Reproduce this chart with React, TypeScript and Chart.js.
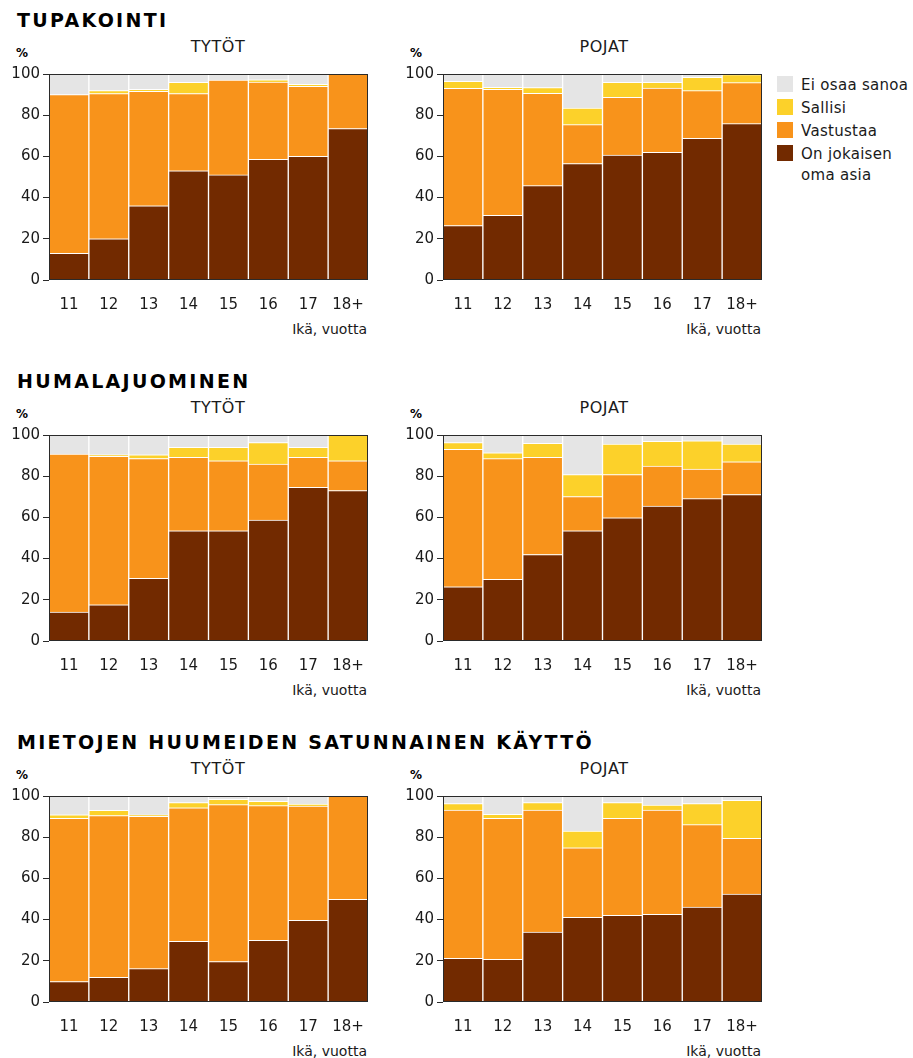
import React, { useEffect, useRef } from "react";
import { Chart, registerables } from "chart.js";

Chart.register(...registerables);

const AGES = ["11", "12", "13", "14", "15", "16", "17", "18+"];
const Y_TICKS = [0, 20, 40, 60, 80, 100];
const SERIES_NAMES = ["On jokaisen oma asia", "Vastustaa", "Sallisi", "Ei osaa sanoa"];
const SERIES_COLORS = ["#722A00", "#F8931B", "#FCD12A", "#E5E5E5"];
const SECTION_TITLES = ["TUPAKOINTI", "HUMALAJUOMINEN", "MIETOJEN HUUMEIDEN SATUNNAINEN KÄYTTÖ"];
const GROUP_TITLES = ["TYTÖT", "POJAT"];

// Tupakointi – tytöt
const SMOKE_GIRLS_ON = [13, 20, 36, 53, 51, 58.6, 60, 73.5];
const SMOKE_GIRLS_VAST = [77, 70.5, 55.6, 37.5, 46, 37.5, 34, 26.5];
const SMOKE_GIRLS_SALL = [0, 1.5, 1, 5.5, 0, 1.1, 1, 0];
const SMOKE_GIRLS_EI = [10, 8, 7.4, 4, 3, 2.8, 5, 0];
// Tupakointi – pojat
const SMOKE_BOYS_ON = [26.4, 31.4, 45.8, 56.5, 60.7, 62, 68.8, 75.9];
const SMOKE_BOYS_VAST = [66.6, 61.2, 44.8, 18.9, 28, 31.2, 23.1, 19.9];
const SMOKE_BOYS_SALL = [3.4, 0.9, 2.8, 8.1, 7.3, 2.8, 6.5, 3.9];
const SMOKE_BOYS_EI = [3.6, 6.5, 6.6, 16.5, 4, 4, 1.6, 0.3];
// Humalajuominen – tytöt
const DRINK_GIRLS_ON = [14, 17.6, 30.4, 53.5, 53.5, 58.7, 74.6, 73];
const DRINK_GIRLS_VAST = [76.7, 72, 58.2, 35.6, 34, 27.2, 14.5, 14.5];
const DRINK_GIRLS_SALL = [0, 0.8, 1.8, 4.9, 6.5, 10.4, 4.9, 12.5];
const DRINK_GIRLS_EI = [9.3, 9.6, 9.6, 6, 6, 3.7, 6, 0];
// Humalajuominen – pojat
const DRINK_BOYS_ON = [26.3, 29.9, 42, 53.5, 59.8, 65.5, 69.1, 71.1];
const DRINK_BOYS_VAST = [66.7, 58.6, 47.1, 16.6, 21, 19.4, 14.3, 15.9];
const DRINK_BOYS_SALL = [3.3, 2.9, 6.8, 10.7, 14.8, 12, 13.8, 8.6];
const DRINK_BOYS_EI = [3.7, 8.6, 4.1, 19.2, 4.4, 3.1, 2.8, 4.4];
// Mietojen huumeiden satunnainen käyttö – tytöt
const DRUG_GIRLS_ON = [9.9, 12, 16.2, 29.4, 19.6, 29.9, 39.6, 49.8];
const DRUG_GIRLS_VAST = [79.3, 78.5, 73.9, 64.9, 76.2, 65.4, 55.5, 50];
const DRUG_GIRLS_SALL = [1.7, 2.5, 0.7, 2.5, 2.6, 2.1, 1, 0];
const DRUG_GIRLS_EI = [9.1, 7, 9.2, 3.2, 1.6, 2.6, 3.9, 0.2];
// Mietojen huumeiden satunnainen käyttö – pojat
const DRUG_BOYS_ON = [21.2, 20.7, 34, 41.1, 42.1, 42.6, 46.1, 52.4];
const DRUG_BOYS_VAST = [72, 68.5, 59.2, 33.8, 47.1, 50.6, 40, 27];
const DRUG_BOYS_SALL = [3.1, 1.9, 3.6, 8.1, 7.6, 2.4, 10.2, 18.5];
const DRUG_BOYS_EI = [3.7, 8.9, 3.2, 17, 3.2, 4.4, 3.7, 2.1];

const CHART_DATA = [
  [
    [SMOKE_GIRLS_ON, SMOKE_GIRLS_VAST, SMOKE_GIRLS_SALL, SMOKE_GIRLS_EI],
    [SMOKE_BOYS_ON, SMOKE_BOYS_VAST, SMOKE_BOYS_SALL, SMOKE_BOYS_EI],
  ],
  [
    [DRINK_GIRLS_ON, DRINK_GIRLS_VAST, DRINK_GIRLS_SALL, DRINK_GIRLS_EI],
    [DRINK_BOYS_ON, DRINK_BOYS_VAST, DRINK_BOYS_SALL, DRINK_BOYS_EI],
  ],
  [
    [DRUG_GIRLS_ON, DRUG_GIRLS_VAST, DRUG_GIRLS_SALL, DRUG_GIRLS_EI],
    [DRUG_BOYS_ON, DRUG_BOYS_VAST, DRUG_BOYS_SALL, DRUG_BOYS_EI],
  ],
];

const FONT = "'DejaVu Sans', Verdana, sans-serif";
const TEXT_COLOR = "#1a1a1a";

// layout
const ROW_OFFSETS = [0, 361, 722];
const PLOT_TOP = 74;
const PLOT_H = 206;
const PLOT_LEFTS = [49, 443];
const GROUP_CENTERS = [218, 604];
const PLOT_W = 319;
const AY_W = 45;
const AX_H = 40;
const PAD_T = 12;
const PAD_R = 4;

const framePlugin = {
  id: "frame",
  afterDatasetsDraw(chart: any) {
    const { ctx, chartArea } = chart;
    const { left, top, right, bottom } = chartArea;
    ctx.save();
    ctx.strokeStyle = "#2a2a2a";
    ctx.lineWidth = 1;
    ctx.strokeRect(left + 0.5, top + 0.5, right - left - 1, bottom - top - 1);
    ctx.restore();
  },
};

function StackChart({ series, left, top }: { series: number[][]; left: number; top: number }) {
  const ref = useRef<HTMLCanvasElement>(null);
  const W = AY_W + PLOT_W + PAD_R;
  const H = PAD_T + PLOT_H + AX_H;
  useEffect(() => {
    if (!ref.current) return;
    const chart = new Chart(ref.current, {
      type: "bar",
      data: {
        labels: AGES,
        datasets: series.map((d, i) => ({
          label: SERIES_NAMES[i],
          data: d,
          backgroundColor: SERIES_COLORS[i],
          borderColor: "#ffffff",
          borderWidth: { top: 1, left: 1, right: 1, bottom: 0 },
          borderSkipped: false,
          categoryPercentage: 1,
          barPercentage: 1,
        })),
      },
      options: {
        animation: false,
        responsive: false,
        maintainAspectRatio: false,
        devicePixelRatio: 1,
        layout: { padding: { top: PAD_T, right: PAD_R, left: 0, bottom: 0 } },
        plugins: { legend: { display: false }, tooltip: { enabled: false } },
        scales: {
          x: {
            stacked: true,
            grid: {
              display: true,
              drawOnChartArea: false,
              drawTicks: true,
              tickLength: 12,
              color: "rgba(0,0,0,0)",
            },
            border: { display: false },
            ticks: { font: { family: FONT, size: 15 }, color: TEXT_COLOR, padding: 4 },
            afterFit: (s: any) => {
              s.height = AX_H;
            },
          },
          y: {
            stacked: true,
            min: 0,
            max: 100,
            afterBuildTicks: (s: any) => {
              s.ticks = Y_TICKS.map((v) => ({ value: v }));
            },
            grid: { drawOnChartArea: false, drawTicks: true, tickLength: 6, color: "#2a2a2a" },
            border: { display: false },
            ticks: { font: { family: FONT, size: 15 }, color: TEXT_COLOR, padding: 3 },
            afterFit: (s: any) => {
              s.width = AY_W;
            },
          },
        },
      },
      plugins: [framePlugin],
    });
    return () => chart.destroy();
  }, []);
  return (
    <canvas
      ref={ref}
      width={W}
      height={H}
      style={{ position: "absolute", left, top, width: W, height: H }}
    />
  );
}

function Txt({
  x,
  y,
  align = "left",
  style,
  children,
}: {
  x: number;
  y: number;
  align?: "left" | "center" | "right";
  style?: React.CSSProperties;
  children: React.ReactNode;
}) {
  const tx = align === "center" ? "-50%" : align === "right" ? "-100%" : "0";
  return (
    <div
      style={{
        position: "absolute",
        left: x,
        top: y,
        transform: `translate(${tx}, -50%)`,
        whiteSpace: "nowrap",
        fontFamily: FONT,
        color: TEXT_COLOR,
        lineHeight: 1.2,
        ...style,
      }}
    >
      {children}
    </div>
  );
}

export default function App() {
  const legendTops = [76, 99, 122, 145];
  const legendOrder = [3, 2, 1, 0];
  return (
    <div
      style={{
        position: "absolute",
        left: 0,
        top: 0,
        width: 913,
        height: 1058,
        background: "#ffffff",
        overflow: "hidden",
      }}
    >
      {ROW_OFFSETS.map((off, r) => (
        <React.Fragment key={r}>
          <Txt x={17} y={20 + off} style={{ fontWeight: "bold", fontSize: 19, letterSpacing: 2.3, color: "#000" }}>
            {SECTION_TITLES[r]}
          </Txt>
          {PLOT_LEFTS.map((pl, c) => (
            <React.Fragment key={c}>
              <Txt x={GROUP_CENTERS[c]} y={47 + off} align="center" style={{ fontSize: 16, letterSpacing: 0.6 }}>
                {GROUP_TITLES[c]}
              </Txt>
              <Txt x={pl - 33} y={53 + off} style={{ fontSize: 12, fontWeight: "bold", color: "#000" }}>
                %
              </Txt>
              <Txt x={pl + PLOT_W - 1} y={329 + off} align="right" style={{ fontSize: 14 }}>
                Ikä, vuotta
              </Txt>
              <StackChart
                series={CHART_DATA[r][c]}
                left={pl - AY_W}
                top={PLOT_TOP + off - PAD_T}
              />
            </React.Fragment>
          ))}
        </React.Fragment>
      ))}
      {legendOrder.map((si, k) => (
        <React.Fragment key={si}>
          <div
            style={{
              position: "absolute",
              left: 777,
              top: legendTops[k],
              width: 16,
              height: 16,
              background: SERIES_COLORS[si],
            }}
          />
          <div
            style={{
              position: "absolute",
              left: 801,
              top: legendTops[k] - 1,
              fontFamily: FONT,
              fontSize: 15,
              letterSpacing: 0.3,
              lineHeight: "21px",
              color: TEXT_COLOR,
              width: 112,
              whiteSpace: "nowrap",
            }}
          >
            {si === 0 ? (
              <>
                On jokaisen
                <br />
                oma asia
              </>
            ) : (
              SERIES_NAMES[si]
            )}
          </div>
        </React.Fragment>
      ))}
    </div>
  );
}
